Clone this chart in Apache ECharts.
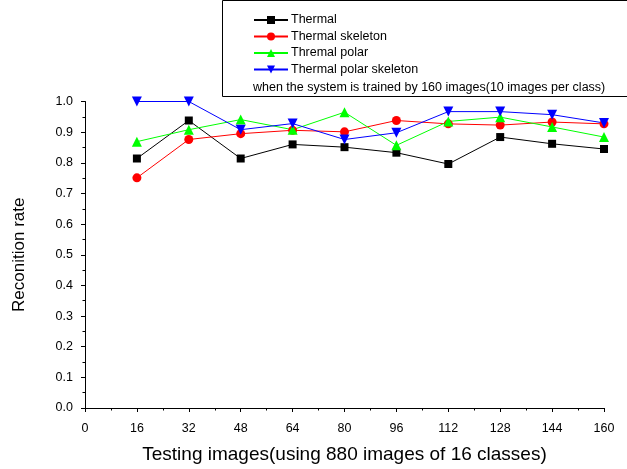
<!DOCTYPE html>
<html>
<head>
<meta charset="utf-8">
<script src="https://cdn.jsdelivr.net/npm/echarts@6/dist/echarts.min.js"></script>
<style>html,body{margin:0;padding:0;background:#fff}#c{width:627px;height:469px}</style>
</head>
<body>
<div id="c"></div>
<script>
const xValues = [16, 32, 48, 64, 80, 96, 112, 128, 144, 160];
const thermal = [0.814, 0.938, 0.814, 0.860, 0.851, 0.833, 0.796, 0.884, 0.862, 0.845];
const thermalSkeleton = [0.751, 0.876, 0.895, 0.906, 0.901, 0.938, 0.927, 0.923, 0.933, 0.927];
const thermalPolar = [0.869, 0.908, 0.941, 0.908, 0.965, 0.857, 0.935, 0.949, 0.917, 0.884];
const thermalPolarSkeleton = [1.0, 1.0, 0.908, 0.928, 0.876, 0.898, 0.967, 0.967, 0.957, 0.930];
const seriesNames = ['Thermal', 'Thermal skeleton', 'Thremal polar', 'Thermal polar skeleton'];
const noteText = 'when the system is trained by 160 images(10 images per class)';
const xTitle = 'Testing images(using 880 images of 16 classes)';
const yTitle = 'Reconition rate';

const FONT = 'Liberation Sans, Arial, sans-serif';
const chart = echarts.init(document.getElementById('c'), null, {renderer: 'canvas'});

function mk(name, vals, color, symbol, size, rot) {
  return {
    name: name, type: 'line',
    data: xValues.map((x, i) => [x, vals[i]]),
    symbol: symbol, symbolSize: size, symbolRotate: rot || 0,
    itemStyle: {color: color},
    lineStyle: {color: color, width: 1},
    emphasis: {disabled: true},
    animation: false
  };
}

chart.setOption({
  animation: false,
  grid: {left: 85, right: 23, top: 101.5, bottom: 56.5, containLabel: false},
  legend: {
    orient: 'vertical', left: 248, top: 8,
    itemWidth: 34, itemHeight: 10, itemGap: 2.5,
    textStyle: {fontFamily: FONT, fontSize: 12.5, lineHeight: 14, color: '#000', padding: [0, 0, 0, -2]},
    data: seriesNames
  },
  graphic: [
    {type: 'rect', shape: {x: 222.5, y: 0.5, width: 410, height: 96}, style: {fill: 'none', stroke: '#000', lineWidth: 1}, z: 0},
    {type: 'text', left: 253, top: 81.5, style: {text: noteText, font: '12.5px ' + FONT, fill: '#000'}}
  ],
  xAxis: {
    type: 'value', min: 0, max: 160, interval: 16,
    name: xTitle, nameLocation: 'middle', nameGap: 37,
    nameTextStyle: {fontFamily: FONT, fontSize: 19, color: '#000'},
    axisLine: {lineStyle: {color: '#000', width: 1}},
    axisTick: {show: true, inside: false, length: 4, lineStyle: {color: '#000'}},
    minorTick: {show: true, splitNumber: 2, length: 2.5, lineStyle: {color: '#000'}},
    splitLine: {show: false},
    axisLabel: {fontFamily: FONT, fontSize: 12.5, color: '#000', margin: 14, showMinLabel: true, showMaxLabel: true}
  },
  yAxis: {
    type: 'value', min: 0, max: 1, interval: 0.1,
    name: yTitle, nameLocation: 'middle', nameGap: 57, nameRotate: 90,
    nameTextStyle: {fontFamily: FONT, fontSize: 17, color: '#000'},
    axisLine: {show: true, lineStyle: {color: '#000', width: 1}},
    axisTick: {show: true, inside: false, length: 4, lineStyle: {color: '#000'}},
    minorTick: {show: true, splitNumber: 2, length: 2.5, lineStyle: {color: '#000'}},
    splitLine: {show: false},
    axisLabel: {fontFamily: FONT, fontSize: 12.5, color: '#000', margin: 12, formatter: v => v.toFixed(1)}
  },
  series: [
    mk(seriesNames[0], thermal, '#000000', 'rect', 8),
    mk(seriesNames[1], thermalSkeleton, '#ff0000', 'circle', 9),
    mk(seriesNames[2], thermalPolar, '#00ff00', 'triangle', 10),
    mk(seriesNames[3], thermalPolarSkeleton, '#0000ff', 'triangle', 10, 180)
  ]
});
</script>
</body>
</html>
